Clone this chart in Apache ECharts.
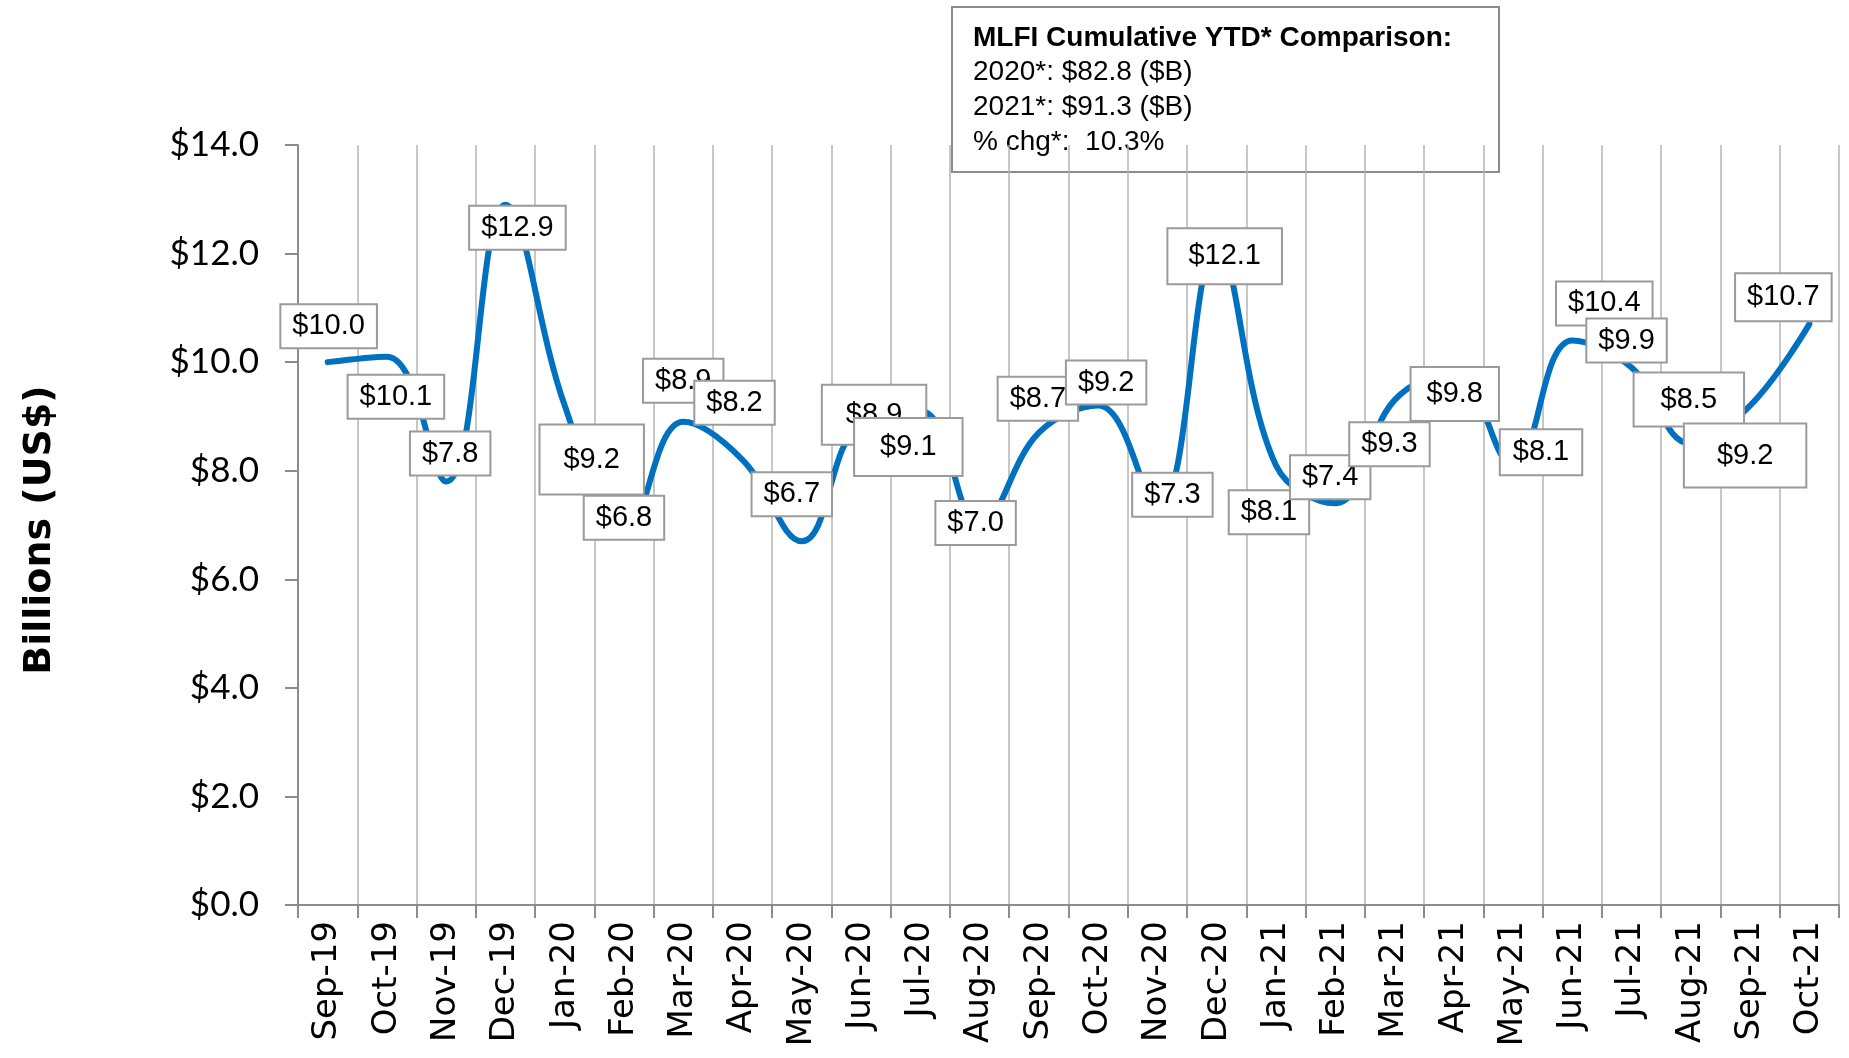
<!DOCTYPE html>
<html>
<head>
<meta charset="utf-8">
<title>MLFI monthly volume</title>
<script src="https://cdn.jsdelivr.net/npm/echarts@6/dist/echarts.min.js"></script>
<style>
  html, body { margin: 0; padding: 0; background: #fff; }
  #chart { width: 1849px; height: 1058px; }
</style>
</head>
<body>
<div id="chart"></div>
<script>
// months on the x axis
const months = ['Sep-19', 'Oct-19', 'Nov-19', 'Dec-19', 'Jan-20', 'Feb-20', 'Mar-20', 'Apr-20',
  'May-20', 'Jun-20', 'Jul-20', 'Aug-20', 'Sep-20', 'Oct-20', 'Nov-20', 'Dec-20', 'Jan-21',
  'Feb-21', 'Mar-21', 'Apr-21', 'May-21', 'Jun-21', 'Jul-21', 'Aug-21', 'Sep-21', 'Oct-21']

// monthly new business volume, billions US$
const volume = [10.0, 10.1, 7.8, 12.9, 9.2, 6.8, 8.9, 8.2, 6.7, 8.9, 9.1, 7.0, 8.7, 9.2, 7.3,
  12.1, 8.1, 7.4, 9.3, 9.8, 8.1, 10.4, 9.9, 8.5, 9.2, 10.7]

// y axis ticks
const yMin = 0
const yMax = 14
const yStep = 2

// summary box text
const boxTitle = 'MLFI Cumulative YTD* Comparison:'
const boxLines = ['2020*: $82.8 ($B)', '2021*: $91.3 ($B)', '% chg*:  10.3%']

// hand placed data label boxes (offset from point, padding) — as in the original
const labelOffset = [[1, -36], [9, 40], [4, -28], [12, 23], [27, 54], [0, -18], [0, -41], [-8, -57],
  [-10, -47], [13, -7], [-12, 36], [-4, -2], [-1, -34], [8, -23], [15, -14], [8, 8], [-7, 47],
  [-5, -26], [-5, 44], [1, 21], [28, -13], [32, -37], [-5, -27], [-2, -44], [-5, 50], [-26, -27]]
const labelPad = [[6, 11], [6, 11], [6, 11], [6, 11], [19, 23], [6, 11], [6, 11], [6, 11],
  [6, 11], [14, 23], [13, 25], [6, 11], [6, 11], [6, 11], [6, 11], [12, 20], [6, 11],
  [6, 11], [6, 11], [11, 15], [7, 12], [6, 11], [6, 11], [11, 26], [16, 32], [8, 11]]

const SYMBOL = 2 // tiny marker, labels are anchored to it

const chart = echarts.init(document.getElementById('chart'))

// label position is relative to the marker's top-left corner
const seriesData = volume.map((v, i) => ({
  value: v,
  label: {
    position: [SYMBOL / 2 + labelOffset[i][0], SYMBOL / 2 + labelOffset[i][1]],
    padding: labelPad[i]
  }
}))

chart.setOption({
  animation: false,
  grid: { left: 298, right: 10, top: 145, bottom: 153 },
  xAxis: {
    type: 'category',
    data: months,
    boundaryGap: true,
    axisLine: { lineStyle: { color: '#8c8c8c', width: 2 } },
    axisTick: { show: true, length: 13, lineStyle: { color: '#8c8c8c', width: 2 } },
    axisLabel: {
      rotate: 90,
      margin: 16,
      interval: 0,
      color: '#000',
      fontFamily: 'DejaVu Sans',
      fontSize: 34
    },
    splitLine: { show: true, lineStyle: { color: '#b4b4b4', width: 1.5 } }
  },
  yAxis: {
    type: 'value',
    min: yMin,
    max: yMax,
    interval: yStep,
    axisLine: { show: true, lineStyle: { color: '#8c8c8c', width: 2 } },
    axisTick: { show: true, length: 13, lineStyle: { color: '#8c8c8c', width: 2 } },
    axisLabel: {
      margin: 39,
      color: '#000',
      fontFamily: 'Lato',
      fontSize: 35,
      formatter: (v) => '$' + v.toFixed(1)
    },
    splitLine: { show: false }
  },
  series: [{
    type: 'line',
    data: seriesData,
    smooth: 0.4,
    symbol: 'circle',
    symbolSize: SYMBOL,
    showSymbol: true,
    itemStyle: { color: '#0070C0' },
    lineStyle: { color: '#0070C0', width: 6, cap: 'round' },
    emphasis: { disabled: true },
    label: {
      show: true,
      align: 'center',
      verticalAlign: 'middle',
      formatter: (p) => '$' + p.value.toFixed(1),
      fontFamily: 'Liberation Sans',
      fontSize: 29,
      lineHeight: 30,
      color: '#000',
      backgroundColor: '#fff',
      borderColor: '#9a9a9a',
      borderWidth: 2
    },
    labelLayout: { hideOverlap: false }
  }],
  graphic: [
    {
      type: 'text',
      x: 40,
      y: 530,
      rotation: Math.PI / 2,
      style: {
        text: 'Billions (US$)',
        font: 'bold 38px "DejaVu Sans"',
        fill: '#000',
        textAlign: 'center',
        textVerticalAlign: 'middle'
      }
    },
    {
      type: 'group',
      z: 100,
      children: [
        {
          type: 'rect',
          shape: { x: 952, y: 7, width: 547, height: 165 },
          style: { fill: '#fff', stroke: '#8c8c8c', lineWidth: 2 }
        },
        {
          type: 'text',
          x: 973, y: 38,
          style: { text: boxTitle, font: 'bold 28px "Liberation Sans"', fill: '#000', textVerticalAlign: 'middle' }
        }
      ].concat(boxLines.map((t, i) => ({
        type: 'text',
        x: 973, y: 72 + i * 35,
        style: { text: t, font: '28px "Liberation Sans"', fill: '#000', textVerticalAlign: 'middle' }
      })))
    }
  ]
})

window.addEventListener('resize', () => chart.resize())
</script>
</body>
</html>
